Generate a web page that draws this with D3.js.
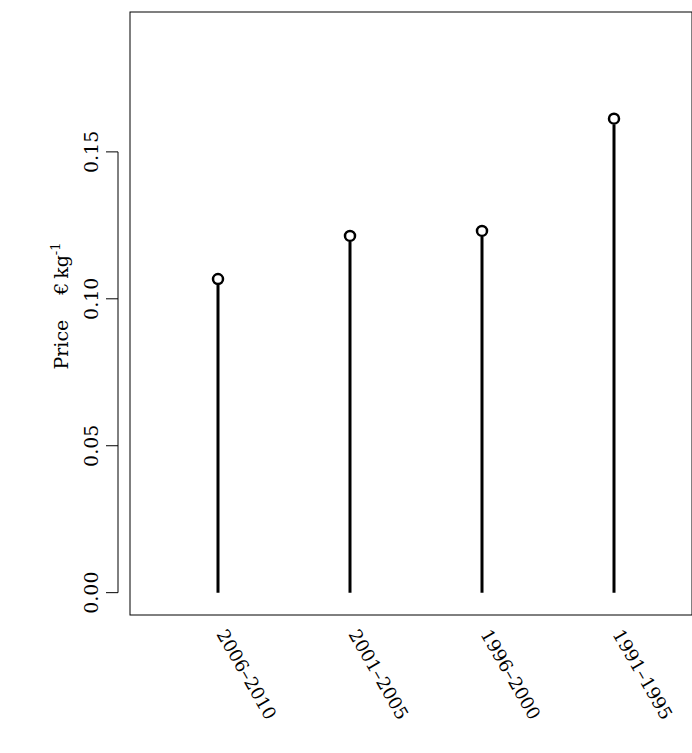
<!DOCTYPE html>
<html><head><meta charset="utf-8">
<script src="https://cdn.jsdelivr.net/npm/d3@7"></script>
<style>body{margin:0;background:#fff}</style>
</head><body>
<script>
var periods = ["2006\u20132010", "2001\u20132005", "1996\u20132000", "1991\u20131995"];
var prices = [0.1067, 0.1214, 0.1231, 0.1613];
var yTicks = [0, 0.05, 0.10, 0.15];

var W = 692, H = 753;
var font = "'DejaVu Serif', serif";
var svg = d3.select("body").append("svg").attr("width", W).attr("height", H);

var pLeft = 130, pTop = 12, pRight = 692, pBottom = 615;
var y = d3.scaleLinear().domain([-0.0076, 0.1976]).range([pBottom, pTop]);
var x = d3.scaleLinear().domain([0, 3]).range([218, 614]);

svg.append("rect").attr("x", pLeft).attr("y", pTop).attr("width", pRight - pLeft).attr("height", pBottom - pTop)
  .attr("fill", "none").attr("stroke", "#000").attr("stroke-width", 1);

// y axis, R style: detached from the box
var ax = svg.append("g").attr("transform", "translate(" + (pLeft - 12) + ",0)");
ax.append("line").attr("x1", 0).attr("x2", 0).attr("y1", y(0)).attr("y2", y(0.15)).attr("stroke", "#000");
ax.selectAll(".tk").data(yTicks).enter().append("line")
  .attr("x1", 0).attr("x2", -12).attr("y1", y).attr("y2", y).attr("stroke", "#000");
ax.selectAll(".tl").data(yTicks).enter().append("text")
  .attr("transform", function (d) { return "translate(-20," + y(d) + ") rotate(-90)"; })
  .attr("text-anchor", "middle").attr("font-family", font).attr("font-size", 19)
  .text(d3.format(".2f"));

svg.selectAll(".stem").data(prices).enter().append("line")
  .attr("x1", function (d, i) { return x(i); }).attr("x2", function (d, i) { return x(i); })
  .attr("y1", y(0)).attr("y2", function (d) { return y(d) + 6; })
  .attr("stroke", "#000").attr("stroke-width", 3);
svg.selectAll(".pt").data(prices).enter().append("circle")
  .attr("cx", function (d, i) { return x(i); }).attr("cy", function (d) { return y(d); })
  .attr("r", 5).attr("fill", "#fff").attr("stroke", "#000").attr("stroke-width", 2.5);

svg.selectAll(".xl").data(periods).enter().append("text")
  .attr("transform", function (d, i) { return "translate(" + (x(i) - 2) + ",634) rotate(60)"; })
  .attr("font-family", font).attr("font-size", 18).text(function (d) { return d; });

var yl = svg.append("text").attr("transform", "translate(68,306) rotate(-90)")
  .attr("text-anchor", "middle").attr("font-family", font).attr("font-size", 19);
yl.append("tspan").text("Price\u2003\u00a0\u20ac\u2009kg");
yl.append("tspan").attr("dy", -8).attr("font-size", 13).text("-1");
</script>
</body></html>
